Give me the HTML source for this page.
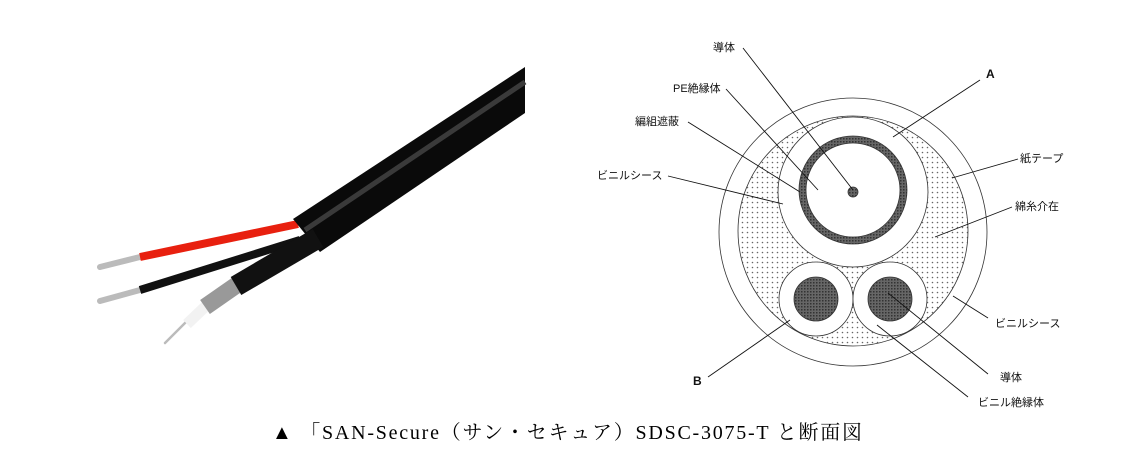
<!DOCTYPE html>
<html><head><meta charset="utf-8"><style>
html,body{margin:0;padding:0;background:#fff;}
body{width:1134px;height:460px;overflow:hidden;}
svg text{font-family:"Liberation Sans","Noto Sans CJK JP",sans-serif;font-size:11px;fill:#111;}
.cap{font-family:"Liberation Serif","Noto Serif CJK SC",serif;font-size:20px;fill:#000;}
</style></head><body>
<svg width="1134" height="460" viewBox="0 0 1134 460" xmlns="http://www.w3.org/2000/svg">
<defs>
<pattern id="dots" width="5" height="5" patternUnits="userSpaceOnUse">
<rect width="5" height="5" fill="#fff"/><circle cx="2.5" cy="2.5" r="0.8" fill="#666"/></pattern>
<pattern id="hatch" width="3" height="3" patternUnits="userSpaceOnUse">
<rect width="3" height="3" fill="#666"/><rect width="1.5" height="1.5" fill="#333"/></pattern>
</defs>
<!-- cable photo -->
<g stroke-linecap="round">
<line x1="100" y1="267" x2="140" y2="257" stroke="#bbb" stroke-width="6"/>
<line x1="140" y1="257" x2="298" y2="224" stroke="#e8200f" stroke-width="8" stroke-linecap="butt"/>
<line x1="100" y1="301" x2="140" y2="290" stroke="#bbb" stroke-width="6"/>
<line x1="140" y1="290" x2="300" y2="240" stroke="#111" stroke-width="8" stroke-linecap="butt"/>
<line x1="165" y1="343" x2="190" y2="318" stroke="#bbb" stroke-width="2.5"/>
<line x1="187" y1="324" x2="208" y2="304" stroke="#f2f2f2" stroke-width="11" stroke-linecap="butt"/>
<line x1="205" y1="307" x2="238" y2="284" stroke="#999" stroke-width="17" stroke-linecap="butt"/>
</g>
<polygon points="525,67 525,113 320,252 293,219" fill="#0a0a0a"/>
<line x1="236" y1="286" x2="318" y2="238" stroke="#111" stroke-width="21"/>
<line x1="305" y1="230" x2="525" y2="82" stroke="#3a3a3a" stroke-width="5"/>
<!-- cross-section -->
<g stroke="#333" stroke-width="0.8">
<circle cx="853" cy="232" r="134" fill="#fff"/>
<circle cx="853" cy="231" r="115" fill="url(#dots)"/>
<circle cx="853" cy="192" r="75" fill="#fff"/>
<circle cx="853" cy="190" r="54" fill="url(#hatch)"/>
<circle cx="853" cy="190" r="47" fill="#fff"/>
<circle cx="853" cy="192" r="5" fill="url(#hatch)"/>
<circle cx="816" cy="299" r="37" fill="#fff"/>
<circle cx="890" cy="299" r="37" fill="#fff"/>
<circle cx="816" cy="299" r="22" fill="url(#hatch)"/>
<circle cx="890" cy="299" r="22" fill="url(#hatch)"/>
</g>
<g stroke="#111" stroke-width="0.9" fill="none">
<line x1="743" y1="48" x2="853" y2="190"/>
<line x1="726" y1="89" x2="818" y2="190"/>
<line x1="688" y1="122" x2="800" y2="192"/>
<line x1="668" y1="176" x2="783" y2="204"/>
<line x1="980" y1="80" x2="893" y2="137"/>
<line x1="1018" y1="159" x2="952" y2="178"/>
<line x1="1012" y1="207" x2="935" y2="237"/>
<line x1="988" y1="318" x2="953" y2="296"/>
<line x1="988" y1="374" x2="888" y2="293"/>
<line x1="968" y1="397" x2="877" y2="325"/>
<line x1="708" y1="377" x2="790" y2="320"/>
</g>
<text x="713" y="51">導体</text>
<text x="673" y="92">PE絶縁体</text>
<text x="635" y="125">編組遮蔽</text>
<text x="597" y="179">ビニルシース</text>
<text x="986" y="78" style="font-weight:bold;font-size:12px">A</text>
<text x="1020" y="162">紙テープ</text>
<text x="1015" y="210">綿糸介在</text>
<text x="995" y="327">ビニルシース</text>
<text x="1000" y="381">導体</text>
<text x="978" y="406">ビニル絶縁体</text>
<text x="693" y="385" style="font-weight:bold;font-size:12px">B</text>
<text class="cap" x="272" y="439" textLength="590" lengthAdjust="spacing">▲ 「SAN-Secure（サン・セキュア）SDSC-3075-T と断面図</text>
</svg>
</body></html>
